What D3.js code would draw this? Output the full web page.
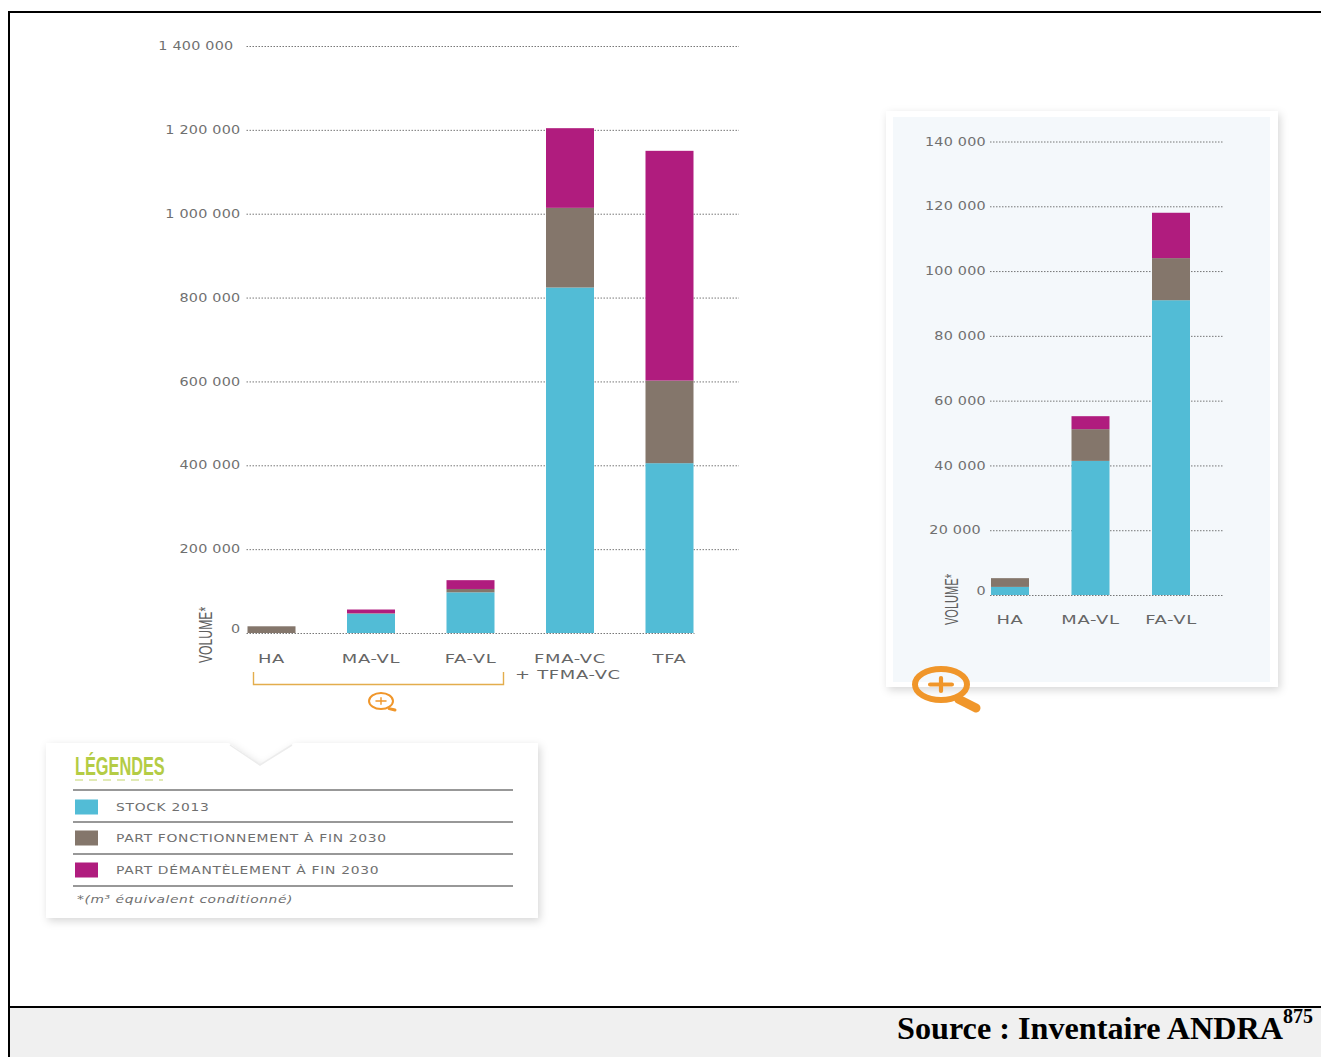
<!DOCTYPE html>
<html>
<head>
<meta charset="utf-8">
<script src="https://cdn.jsdelivr.net/npm/d3@7"></script>
<style>
  html, body { margin: 0; padding: 0; background: #fff; }
  svg { display: block; }
  text { font-family: "DejaVu Sans", sans-serif; fill: #6f6f6f; }
  .narrow { font-family: "Liberation Sans Narrow", "Liberation Sans", sans-serif; }
  .legend-label { font-size: 11px; letter-spacing: 0.55px; }
</style>
</head>
<body>
<svg id="svg" width="1321" height="1057"></svg>
<script>
// data
const categories = ["HA", "MA-VL", "FA-VL", "FMA-VC", "TFA"];
const stock2013 = [0, 46000, 97000, 824000, 405000];
const partFonctionnement = [16000, 1000, 8000, 190000, 197000];
const partDemantelement = [0, 9000, 21000, 190000, 548000];
const mainTicks = [0, 200000, 400000, 600000, 800000, 1000000, 1200000, 1400000];

const zoomCategories = ["HA", "MA-VL", "FA-VL"];
const zoomStock = [2500, 41400, 91000];
const zoomFonctionnement = [2700, 9800, 13000];
const zoomDemantelement = [0, 4000, 14000];
const zoomTicks = [0, 20000, 40000, 60000, 80000, 100000, 120000, 140000];

const seriesKeys = ["stock", "fonctionnement", "demantelement"];
const seriesColors = ["#52bcd6", "#84766b", "#b01c7e"];
const legendLabels = ["STOCK 2013", "PART FONCTIONNEMENT À FIN 2030", "PART DÉMANTÈLEMENT À FIN 2030"];
const orange = "#f0962a";

const svg = d3.select("#svg");
const defs = svg.append("defs");
const shadow = defs.append("filter").attr("id", "shadow")
  .attr("x", "-5%").attr("y", "-5%").attr("width", "112%").attr("height", "112%");
shadow.append("feDropShadow").attr("dx", 2).attr("dy", 3).attr("stdDeviation", 4)
  .attr("flood-color", "#000").attr("flood-opacity", 0.16);

// page frame + footer
svg.append("rect").attr("x", 10).attr("y", 1008).attr("width", 1311).attr("height", 49).attr("fill", "#f0f0f0");
svg.append("path").attr("fill", "none").attr("stroke", "#000").attr("stroke-width", 2)
  .attr("d", "M1321,12H9V1057M9,1007H1321");
const source = svg.append("text").attr("x", 897).attr("y", 1039)
  .style("font-family", '"Liberation Serif", serif').style("font-weight", "bold")
  .style("font-size", "32.2px").style("fill", "#000");
source.append("tspan").text("Source : Inventaire ANDRA");
source.append("tspan").attr("dy", -16).style("font-size", "20px").text("875");

// zoomed panel background
svg.append("rect").attr("x", 886).attr("y", 111).attr("width", 392).attr("height", 576)
  .attr("fill", "#fff").attr("filter", "url(#shadow)");
svg.append("rect").attr("x", 893).attr("y", 117).attr("width", 377).attr("height", 565).attr("fill", "#f4f8fb");

function drawChart(opts) {
  const rows = opts.categories.map((c, i) => ({
    cat: c, stock: opts.stock[i], fonctionnement: opts.fonct[i], demantelement: opts.demant[i]
  }));

  const x = d3.scaleBand().domain(opts.categories).range(opts.xRange).paddingInner(opts.padding).paddingOuter(0);
  const y = d3.scaleLinear().domain(opts.yDomain).range(opts.yRange);
  const gridLeft = opts.xRange[0] - 1;

  const yAxis = d3.axisLeft(y)
    .tickValues(opts.ticks)
    .tickSize(-(opts.gridRight - gridLeft))
    .tickFormat(d => d3.format(",")(d).replace(/,/g, " "));

  const gy = svg.append("g").attr("transform", `translate(${gridLeft},0)`).call(yAxis);
  gy.select(".domain").remove();
  gy.selectAll("line").attr("stroke", "#555").attr("stroke-width", 0.8).attr("stroke-dasharray", "1.5 1.5");
  // labels are stretched sideways, the original face is a wide one
  gy.selectAll(".tick text")
    .attr("x", 0)
    .attr("transform", d => `translate(${-(opts.labelGap + (opts.labelShift[d] || 0))},${d === 0 ? -4 : 0}) scale(1.25,1)`)
    .style("font-size", "11.5px").style("letter-spacing", "0.2px");
  if (opts.zeroEnd) gy.selectAll(".tick").filter(d => d === 0).select("line").attr("x2", opts.zeroEnd);

  // stacked bars
  const stacked = d3.stack().keys(seriesKeys)(rows);
  svg.append("g").selectAll("g").data(stacked).join("g")
    .attr("fill", (d, i) => seriesColors[i])
    .selectAll("rect").data(d => d).join("rect")
    .attr("x", d => x(d.data.cat))
    .attr("width", x.bandwidth())
    .attr("y", d => y(d[1]))
    .attr("height", d => y(d[0]) - y(d[1]));

  // category labels
  const gx = svg.append("g")
    .attr("transform", `translate(0,${opts.yRange[0]})`)
    .call(d3.axisBottom(x).tickSize(0).tickPadding(opts.catGap));
  gx.select(".domain").remove();
  gx.selectAll(".tick text")
    .attr("transform", "scale(1.38,1)")
    .style("font-size", "13px").style("letter-spacing", "0.5px").style("fill", "#666");

  // rotated axis name
  svg.append("text").attr("class", "narrow")
    .attr("transform", `translate(${opts.volX},${opts.volY}) rotate(-90) scale(${opts.volScale},1.25)`)
    .style("font-size", "14px").style("fill", "#5f5f5f").text("VOLUME*");
  return gx;
}

// main chart
const mainX = drawChart({
  categories: categories, stock: stock2013, fonct: partFonctionnement, demant: partDemantelement,
  xRange: [247.5, 693.5], padding: 0.5176, yDomain: [0, 1400000], yRange: [633, 46], ticks: mainTicks,
  gridRight: 739, labelGap: 6, labelShift: { 1400000: 7 }, zeroEnd: 448,
  catGap: 21, volX: 212, volY: 663, volScale: 0.87
});
mainX.selectAll(".tick").filter(d => d === "FMA-VC").select("text")
  .append("tspan").attr("x", -1.5).attr("dy", "1.22em").text("+ TFMA-VC");

// zoomed chart
drawChart({
  categories: zoomCategories, stock: zoomStock, fonct: zoomFonctionnement, demant: zoomDemantelement,
  xRange: [991, 1190], padding: 0.528, yDomain: [0, 140000], yRange: [595, 141.5], ticks: zoomTicks,
  gridRight: 1223, labelGap: 4, labelShift: { 20000: 5 },
  catGap: 20, volX: 958, volY: 625, volScale: 0.79
});

// bracket + magnifiers
svg.append("path").attr("fill", "none").attr("stroke", "#e3ad4c").attr("stroke-width", 1.4)
  .attr("d", "M253.5,672V684.5H503.5V672");

function magnifier(cx, cy, rx, ry, hx, hy, sw) {
  const g = svg.append("g").attr("fill", "none").attr("stroke", orange).attr("stroke-linecap", "round");
  g.append("ellipse").attr("cx", cx).attr("cy", cy).attr("rx", rx).attr("ry", ry).attr("stroke-width", sw);
  g.append("path").attr("stroke-width", sw * 1.5)
    .attr("d", `M${cx + rx * 0.68},${cy + ry * 0.95}L${hx},${hy}`);
  g.append("path").attr("stroke-width", sw * 0.7)
    .attr("d", `M${cx - rx * 0.42},${cy}H${cx + rx * 0.42}M${cx},${cy - ry * 0.42}V${cy + ry * 0.42}`);
}
magnifier(381, 701, 12, 8, 395, 710, 2);
magnifier(941, 684.5, 26, 15.5, 976, 708, 6);

// legend card
svg.append("path").attr("fill", "#fff").attr("filter", "url(#shadow)")
  .attr("d", "M46,743H228L260,765L295,743H538V918H46Z");
svg.append("path").attr("fill", "none").attr("stroke", "#ececec").attr("stroke-width", 1.5)
  .attr("d", "M230,745L260,765L292,745");

svg.append("text").attr("class", "narrow")
  .attr("transform", "translate(75,775) scale(0.96,1.5)")
  .style("font-size", "17px").style("font-weight", "bold").style("fill", "#b4cc45").text("LÉGENDES");
svg.append("line").attr("x1", 75).attr("x2", 163).attr("y1", 780).attr("y2", 780)
  .attr("stroke", "#c3d66b").attr("stroke-width", 1.2).attr("stroke-dasharray", "8 6");

const legendRules = [790, 822, 854, 886];
const legendRows = [807, 838, 870];
svg.append("g").selectAll("line").data(legendRules).join("line")
  .attr("x1", 73).attr("x2", 513).attr("y1", d => d).attr("y2", d => d)
  .attr("stroke", "#333").attr("stroke-width", 1.2);
const leg = svg.append("g").selectAll("g").data(legendLabels).join("g")
  .attr("transform", (d, i) => `translate(75,${legendRows[i]})`);
leg.append("rect").attr("y", -7.5).attr("width", 23).attr("height", 15).attr("fill", (d, i) => seriesColors[i]);
leg.append("text").attr("class", "legend-label").attr("transform", "translate(41,0) scale(1.26,1)")
  .attr("dy", "0.35em").text(d => d);
svg.append("text").attr("transform", "translate(77,903) scale(1.26,1)")
  .style("font-size", "11px").style("font-style", "italic").style("letter-spacing", "0.45px")
  .text("*(m³ équivalent conditionné)");
</script>
</body>
</html>
